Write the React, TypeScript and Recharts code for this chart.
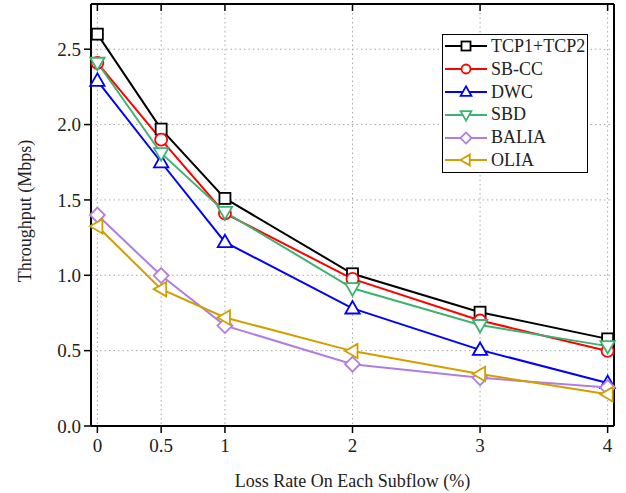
import React from "react";
import { LineChart, Line, XAxis, YAxis, CartesianGrid } from "recharts";

const lossRates = [0, 0.5, 1, 2, 3, 4];
const tcp = [2.6, 1.97, 1.51, 1.01, 0.755, 0.578];
const sbcc = [2.41, 1.9, 1.41, 0.976, 0.7, 0.498];
const dwc = [2.29, 1.75, 1.22, 0.78, 0.505, 0.285];
const sbd = [2.41, 1.81, 1.42, 0.914, 0.67, 0.53];
const balia = [1.4, 0.998, 0.666, 0.41, 0.32, 0.255];
const olia = [1.325, 0.908, 0.72, 0.497, 0.345, 0.21];

const xTicks = [0, 0.5, 1, 2, 3, 4];
const yTicks = [0, 0.5, 1.0, 1.5, 2.0, 2.5];

type Shape = "square" | "circle" | "up" | "down" | "diamond" | "left";

const series: { key: string; name: string; color: string; shape: Shape; values: number[] }[] = [
  { key: "tcp", name: "TCP1+TCP2", color: "#000000", shape: "square", values: tcp },
  { key: "sbcc", name: "SB-CC", color: "#ff0000", shape: "circle", values: sbcc },
  { key: "dwc", name: "DWC", color: "#0000ff", shape: "up", values: dwc },
  { key: "sbd", name: "SBD", color: "#3cb371", shape: "down", values: sbd },
  { key: "balia", name: "BALIA", color: "#b07ee0", shape: "diamond", values: balia },
  { key: "olia", name: "OLIA", color: "#d19f00", shape: "left", values: olia },
];

const data = lossRates.map((x, i) => {
  const row: Record<string, number> = { x };
  series.forEach((s) => (row[s.key] = s.values[i]));
  return row;
});

const FONT = "'Liberation Serif', 'Times New Roman', serif";
const TEXT = "#222";

function marker(shape: Shape, cx: number, cy: number, color: string, s: number, key?: string) {
  const common = { fill: "#fff", stroke: color, strokeWidth: 1.8, key };
  switch (shape) {
    case "square":
      return <rect {...common} x={cx - s / 2} y={cy - s / 2} width={s} height={s} />;
    case "circle":
      return <circle {...common} cx={cx} cy={cy} r={s / 2} />;
    case "up":
      return (
        <polygon
          {...common}
          points={`${cx},${cy - s * 0.62} ${cx - s * 0.6},${cy + s * 0.42} ${cx + s * 0.6},${cy + s * 0.42}`}
        />
      );
    case "down":
      return (
        <polygon
          {...common}
          points={`${cx},${cy + s * 0.62} ${cx - s * 0.6},${cy - s * 0.42} ${cx + s * 0.6},${cy - s * 0.42}`}
        />
      );
    case "diamond":
      return (
        <polygon
          {...common}
          points={`${cx},${cy - s * 0.62} ${cx + s * 0.62},${cy} ${cx},${cy + s * 0.62} ${cx - s * 0.62},${cy}`}
        />
      );
    case "left":
      return (
        <polygon
          {...common}
          points={`${cx - s * 0.62},${cy} ${cx + s * 0.42},${cy - s * 0.6} ${cx + s * 0.42},${cy + s * 0.6}`}
        />
      );
  }
}

const sizes: Record<Shape, number> = {
  square: 11,
  circle: 12,
  up: 12,
  down: 12,
  diamond: 12,
  left: 12,
};

// legend drawn as an overlay so it does not shrink the plot area
function LegendBox() {
  return (
    <div
      style={{
        position: "absolute",
        left: 442,
        top: 34,
        width: 141,
        border: "1.5px solid #000",
        background: "#fff",
        padding: "0px 2px 0px 1px",
        fontFamily: FONT,
        fontSize: 18,
        lineHeight: "22.8px",
        color: TEXT,
      }}
    >
      {series.map((s) => (
        <div key={s.key} style={{ display: "flex", alignItems: "center", height: 22.8 }}>
          <svg width={44} height={22} style={{ marginRight: 3, flex: "none" }}>
            <line x1={1} x2={43} y1={11} y2={11} stroke={s.color} strokeWidth={2} />
            {marker(s.shape, 22, 11, s.color, 9)}
          </svg>
          <span>{s.name}</span>
        </div>
      ))}
    </div>
  );
}

const hiddenTick = () => <g />;

export default function App() {
  return (
    <div style={{ position: "absolute", left: 0, top: 0, width: 626, height: 493, background: "#fff" }}>
      <LineChart
        width={626}
        height={493}
        data={data}
        margin={{ top: 4, right: 12, bottom: 27, left: 31 }}
      >
        <CartesianGrid stroke="#a8a8a8" strokeDasharray="1.5 3" />
        <XAxis
          dataKey="x"
          type="number"
          domain={[-0.05, 4.05]}
          ticks={xTicks}
          height={40}
          stroke="#000"
          axisLine={{ strokeWidth: 2 }}
          tickLine={{ strokeWidth: 1.5 }}
          tickSize={7}
          tick={{ fill: TEXT, fontFamily: FONT, fontSize: 19 }}
          tickMargin={6}
          label={{
            value: "Loss Rate On Each Subflow (%)",
            position: "insideBottom",
            offset: -21,
            fill: TEXT,
            fontFamily: FONT,
            fontSize: 18,
          }}
        />
        <XAxis
          xAxisId="top"
          orientation="top"
          dataKey="x"
          type="number"
          domain={[-0.05, 4.05]}
          ticks={xTicks}
          height={1}
          stroke="#000"
          mirror
          axisLine={{ strokeWidth: 2 }}
          tickLine={{ strokeWidth: 1.5 }}
          tickSize={7}
          tick={hiddenTick}
        />
        <YAxis
          type="number"
          domain={[0, 2.8]}
          ticks={yTicks}
          width={60}
          stroke="#000"
          axisLine={{ strokeWidth: 2 }}
          tickLine={{ strokeWidth: 1.5 }}
          tickSize={7}
          tickMargin={3}
          tickFormatter={(v) => Number(v).toFixed(1)}
          tick={{ fill: TEXT, fontFamily: FONT, fontSize: 19 }}
          label={{
            value: "Throughput (Mbps)",
            angle: -90,
            position: "insideLeft",
            offset: -6,
            dy: -4,
            style: { textAnchor: "middle" },
            fill: TEXT,
            fontFamily: FONT,
            fontSize: 18,
          }}
        />
        <YAxis
          yAxisId="right"
          orientation="right"
          type="number"
          domain={[0, 2.8]}
          ticks={yTicks}
          width={1}
          stroke="#000"
          mirror
          axisLine={{ strokeWidth: 2 }}
          tickLine={{ strokeWidth: 1.5 }}
          tickSize={7}
          tick={hiddenTick}
        />
        {series.map((s) => (
          <Line
            key={s.key}
            type="linear"
            dataKey={s.key}
            name={s.name}
            stroke={s.color}
            strokeWidth={2}
            isAnimationActive={false}
            activeDot={false}
            dot={(p: any) => marker(s.shape, p.cx, p.cy, s.color, sizes[s.shape], `${s.key}-${p.index}`)}
          />
        ))}
      </LineChart>
      <LegendBox />
    </div>
  );
}
